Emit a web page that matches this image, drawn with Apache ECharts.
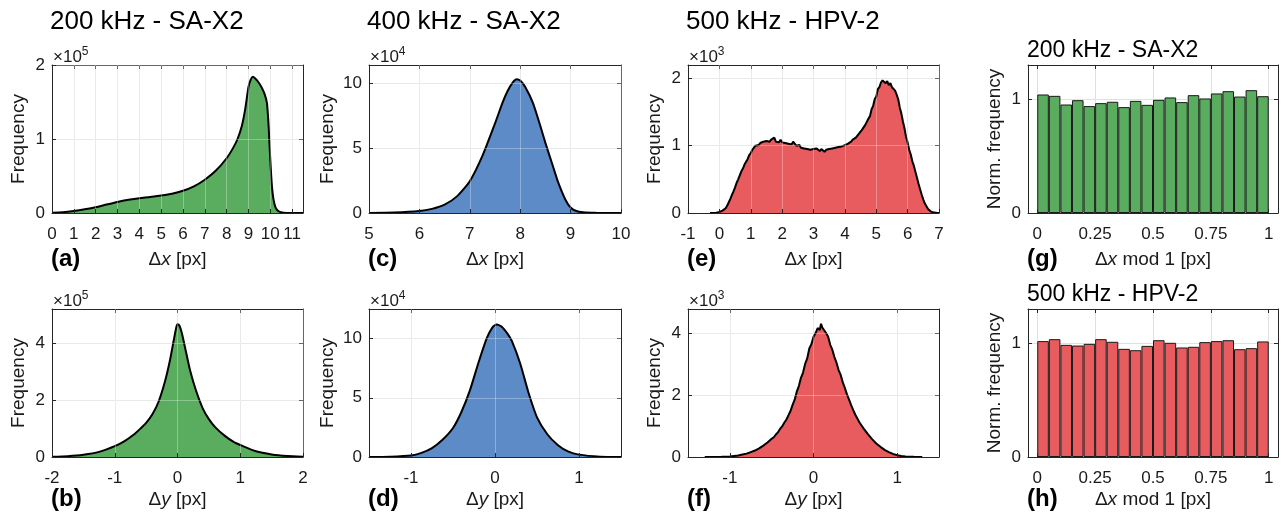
<!DOCTYPE html>
<html>
<head>
<meta charset="utf-8">
<script src="https://cdn.jsdelivr.net/npm/echarts@6/dist/echarts.min.js"></script>
<style>
  html, body { margin: 0; padding: 0; background: #fff; }
  #chart { width: 1282px; height: 518px; }
</style>
</head>
<body>
<div id="chart"></div>
<script>
// (a) 200 kHz SA-X2, Δx histogram, units of 1e5
const dxSA200 = [[0,0.003],[0.5,0.01],[1,0.027],[1.5,0.05],[2,0.078],[2.5,0.115],[3,0.15],[3.5,0.178],
  [4,0.2],[4.5,0.215],[5,0.235],[5.5,0.26],[6,0.3],[6.5,0.36],[7,0.45],[7.5,0.57],[8,0.74],[8.3,0.88],
  [8.5,1.0],[8.7,1.18],[8.85,1.4],[9.0,1.7],[9.1,1.8],[9.2,1.84],[9.3,1.82],[9.45,1.77],[9.6,1.7],
  [9.75,1.6],[9.85,1.48],[9.92,1.2],[9.97,0.9],[10.02,0.62],[10.08,0.35],[10.15,0.18],[10.25,0.07],
  [10.4,0.02],[10.6,0.004],[11,0],[11.5,0]];
// (b) 200 kHz SA-X2, Δy histogram, units of 1e5
const dySA200 = [[-2,0.01],[-1.75,0.03],[-1.5,0.08],[-1.25,0.18],[-1,0.38],[-0.85,0.55],[-0.7,0.78],
  [-0.6,0.98],[-0.5,1.2],[-0.4,1.5],[-0.3,1.95],[-0.2,2.65],[-0.12,3.4],[-0.06,4.1],[-0.02,4.55],[0,4.66],
  [0.03,4.62],[0.07,4.35],[0.12,3.85],[0.2,3.05],[0.3,2.3],[0.4,1.72],[0.5,1.33],[0.6,1.05],[0.75,0.75],
  [0.9,0.52],[1,0.42],[1.25,0.2],[1.5,0.09],[1.75,0.035],[2,0.012]];
// (c) 400 kHz SA-X2, Δx histogram, units of 1e4
const dxSA400 = [[5,0],[5.5,0.03],[6,0.15],[6.25,0.32],[6.5,0.64],[6.75,1.3],[7,2.45],[7.25,4.4],
  [7.5,6.9],[7.65,8.5],[7.75,9.4],[7.85,10.05],[7.93,10.3],[8.0,10.2],[8.1,9.7],[8.25,8.5],[8.4,6.7],
  [8.5,5.4],[8.65,3.6],[8.75,2.4],[8.9,1.0],[9,0.42],[9.1,0.17],[9.25,0.05],[9.5,0.01],[10,0]];
// (d) 400 kHz SA-X2, Δy histogram, units of 1e4
const dySA400 = [[-1.5,0],[-1.25,0.03],[-1,0.13],[-0.875,0.35],[-0.75,0.75],[-0.625,1.45],[-0.5,2.45],
  [-0.4,3.8],[-0.3,5.6],[-0.2,7.9],[-0.1,10.0],[-0.03,10.95],[0.02,11.2],[0.08,11.0],[0.15,10.4],
  [0.2,9.8],[0.3,7.9],[0.4,5.4],[0.5,3.35],[0.625,1.9],[0.75,1.0],[0.875,0.45],[1,0.2],[1.25,0.03],[1.5,0]];
// (e) 500 kHz HPV-2, Δx histogram, units of 1e3, bins from -0.3 every 0.05
const dxHPV500Start = -0.3;
const dxHPV500Step = 0.05;
const dxHPV500 = [
  0, 0, 0, 0.002, 0.004, 0.008, 0.015, 0.02, 0.035, 0.05,
  0.07, 0.11, 0.16, 0.21, 0.27, 0.32, 0.38, 0.45, 0.50, 0.56,
  0.62, 0.66, 0.72, 0.76, 0.80, 0.86, 0.89, 0.94, 0.96, 1.00,
  1.02, 1.01, 1.04, 1.03, 1.06, 1.04, 1.07, 1.05, 1.06, 1.09,
  1.07, 1.12, 1.06, 1.08, 1.05, 1.09, 1.05, 1.07, 1.04, 1.06,
  1.03, 1.05, 1.02, 1.06, 1.03, 1.00, 0.99, 1.01, 0.97, 0.99,
  0.96, 0.98, 0.95, 0.97, 0.94, 0.96, 0.95, 0.93, 0.96, 0.94,
  0.92, 0.95, 0.93, 0.91, 0.94, 0.92, 0.95, 0.93, 0.96, 0.94,
  0.97, 0.95, 0.98, 0.96, 0.99, 0.98, 1.01, 0.99, 1.03, 1.04,
  1.06, 1.09, 1.08, 1.12, 1.14, 1.18, 1.19, 1.24, 1.26, 1.31,
  1.33, 1.40, 1.44, 1.54, 1.59, 1.69, 1.73, 1.84, 1.87, 1.94,
  1.97, 1.99, 1.93, 1.96, 1.90, 1.93, 1.87, 1.89, 1.82, 1.76,
  1.69, 1.57, 1.48, 1.36, 1.26, 1.13, 1.05, 0.94, 0.87, 0.77,
  0.70, 0.61, 0.52, 0.43, 0.35, 0.27, 0.20, 0.14, 0.10, 0.06,
  0.035, 0.02, 0.012, 0.006, 0.003, 0.001, 0];
// (f) 500 kHz HPV-2, Δy histogram, units of 1e3
const dyHPV500 = [[-1.3,0],[-1.2,0.003],[-1.1,0.008],[-1.0,0.02],[-0.95,0.035],[-0.9,0.05],[-0.85,0.08],
  [-0.8,0.11],[-0.75,0.16],[-0.7,0.21],[-0.65,0.28],[-0.6,0.37],[-0.55,0.47],[-0.5,0.59],[-0.475,0.64],
  [-0.45,0.73],[-0.425,0.8],[-0.4,0.91],[-0.375,0.99],[-0.35,1.11],[-0.325,1.21],[-0.3,1.35],[-0.275,1.49],
  [-0.25,1.69],[-0.225,1.86],[-0.2,2.12],[-0.175,2.3],[-0.15,2.57],[-0.125,2.74],[-0.1,3.02],[-0.075,3.2],
  [-0.05,3.52],[-0.025,3.66],[0,3.9],[0.025,4.02],[0.05,4.18],[0.075,4.12],[0.09,4.32],[0.105,4.2],
  [0.125,4.26],[0.15,4.02],[0.175,3.9],[0.2,3.64],[0.225,3.48],[0.25,3.24],[0.275,3.06],[0.3,2.82],
  [0.325,2.66],[0.35,2.42],[0.375,2.24],[0.4,2.03],[0.425,1.86],[0.45,1.68],[0.475,1.52],[0.5,1.37],
  [0.55,1.12],[0.6,0.92],[0.65,0.74],[0.7,0.58],[0.75,0.44],[0.8,0.33],[0.85,0.23],[0.9,0.16],[0.95,0.1],
  [1.0,0.06],[1.05,0.035],[1.1,0.02],[1.2,0.005],[1.3,0]];
// (g), (h) Δx mod 1, normalised frequency per bin
const modBinCenters = [0.025, 0.075, 0.125, 0.175, 0.225, 0.275, 0.325, 0.375, 0.425, 0.475,
  0.525, 0.575, 0.625, 0.675, 0.725, 0.775, 0.825, 0.875, 0.925, 0.975];
const modSA200 = [1.041, 1.029, 0.953, 0.991, 0.939, 0.965, 0.977, 0.930, 0.985, 0.950,
  0.994, 1.015, 0.974, 1.035, 1.006, 1.050, 1.070, 1.023, 1.079, 1.026];
const modHPV500 = [1.018, 1.035, 0.985, 0.979, 0.994, 1.035, 1.012, 0.950, 0.938, 0.976,
  1.026, 1.003, 0.962, 0.968, 1.009, 1.018, 1.026, 0.947, 0.956, 1.015];

// tick values
const ticksA = [0, 1, 2, 3, 4, 5, 6, 7, 8, 9, 10, 11];
const ticksC = [5, 6, 7, 8, 9, 10];
const ticksE = [-1, 0, 1, 2, 3, 4, 5, 6, 7];
const ticksB = [-2, -1, 0, 1, 2];
const ticksDF = [-1, 0, 1];
const ticksMod = [0, 0.25, 0.5, 0.75, 1];

const GREEN = '#5aad5f';
const BLUE = '#5c8bc7';
const RED = '#e85b5e';
const AXIS = '#262626';
const TXT = '#1a1a1a';
const FONT = '"Liberation Sans", Arial, Helvetica, sans-serif';

const colLeft = [52, 369, 688, 1028];
const colWidth = [251, 252, 251, 250];
const rowTop = [65, 309];
const boxH = 148;

const modPairs = vals => vals.map((v, k) => [modBinCenters[k], v]);

const panels = [
  { tag: '(a)', col: 0, row: 0, kind: 'line', smooth: 0.2, data: dxSA200, color: GREEN,
    x: [0, 11.5], xTicks: ticksA, yMax: 2, yTicks: [0, 1, 2], exp: '5', xName: 'x', yName: 'Frequency', yGap: 24 },
  { tag: '(b)', col: 0, row: 1, kind: 'line', smooth: 0.2, data: dySA200, color: GREEN,
    x: [-2, 2], xTicks: ticksB, yMax: 5.2, yTicks: [0, 2, 4], exp: '5', xName: 'y', yName: 'Frequency', yGap: 24 },
  { tag: '(c)', col: 1, row: 0, kind: 'line', smooth: 0.2, data: dxSA400, color: BLUE,
    x: [5, 10], xTicks: ticksC, yMax: 11.4, yTicks: [0, 5, 10], exp: '4', xName: 'x', yName: 'Frequency', yGap: 32 },
  { tag: '(d)', col: 1, row: 1, kind: 'line', smooth: 0.2, data: dySA400, color: BLUE,
    x: [-1.5, 1.5], xTicks: ticksDF, yMax: 12.5, yTicks: [0, 5, 10], exp: '4', xName: 'y', yName: 'Frequency', yGap: 32 },
  { tag: '(e)', col: 2, row: 0, kind: 'line', smooth: false,
    data: dxHPV500.map((v, k) => [dxHPV500Start + k * dxHPV500Step, v]), color: RED,
    x: [-1, 7], xTicks: ticksE, yMax: 2.2, yTicks: [0, 1, 2], exp: '3', xName: 'x', yName: 'Frequency', yGap: 24 },
  { tag: '(f)', col: 2, row: 1, kind: 'line', smooth: false, data: dyHPV500, color: RED,
    x: [-1.5, 1.5], xTicks: ticksDF, yMax: 4.8, yTicks: [0, 2, 4], exp: '3', xName: 'y', yName: 'Frequency', yGap: 24 },
  { tag: '(g)', col: 3, row: 0, kind: 'bar', data: modPairs(modSA200), color: GREEN,
    x: [-0.04, 1.04], xTicks: ticksMod, yMax: 1.3, yTicks: [0, 1], exp: null, xName: 'x', mod: true,
    yName: 'Norm. frequency', yGap: 24, title: '200 kHz - SA-X2' },
  { tag: '(h)', col: 3, row: 1, kind: 'bar', data: modPairs(modHPV500), color: RED,
    x: [-0.04, 1.04], xTicks: ticksMod, yMax: 1.3, yTicks: [0, 1], exp: null, xName: 'x', mod: true,
    yName: 'Norm. frequency', yGap: 24, title: '500 kHz - HPV-2' }
];

const bigTitles = [
  { text: '200 kHz - SA-X2', col: 0 },
  { text: '400 kHz - SA-X2', col: 1 },
  { text: '500 kHz - HPV-2', col: 2 }
];

const grids = [], xAxes = [], yAxes = [], series = [], titles = [];

bigTitles.forEach(t => {
  titles.push({ text: t.text, left: colLeft[t.col] - 2, top: 9, padding: 0,
    textStyle: { fontFamily: FONT, fontSize: 26, fontWeight: 'normal', color: '#000' } });
});

panels.forEach((p, i) => {
  const left = colLeft[p.col], top = rowTop[p.row], w = colWidth[p.col];
  grids.push({ left: left, top: top, width: w, height: boxH, containLabel: false, outerBoundsMode: 'none' });

  const nameRich = {
    n: { fontFamily: FONT, fontSize: 19, color: TXT },
    i: { fontFamily: FONT, fontSize: 19, color: TXT, fontStyle: 'italic' }
  };
  const xName = p.mod ? '{n|Δ}{i|x}{n| mod 1 [px]}' : '{n|Δ}{i|' + p.xName + '}{n| [px]}';

  // bottom axis, drawn over the fill (light grid lines cross the fill)
  xAxes.push({
    gridIndex: i, type: 'value', position: 'bottom', min: p.x[0], max: p.x[1], z: 5,
    axisLine: { show: true, onZero: false, lineStyle: { color: AXIS, width: 1 } },
    axisTick: { show: true, inside: true, length: 4, customValues: p.xTicks, lineStyle: { color: AXIS } },
    axisLabel: { show: true, customValues: p.xTicks, margin: 13, fontSize: 17, fontFamily: FONT, color: TXT },
    splitLine: { show: p.kind === 'line', lineStyle: { color: 'rgba(255,255,255,0.3)', width: 1 } },
    name: xName, nameLocation: 'middle', nameGap: p.row === 0 ? 37 : 33,
    nameTextStyle: { rich: nameRich }
  });
  // top axis (box edge), grid lines under the fill
  xAxes.push({
    gridIndex: i, type: 'value', position: 'top', min: p.x[0], max: p.x[1],
    axisLine: { show: true, onZero: false, lineStyle: { color: AXIS, width: 1 } },
    axisTick: { show: true, inside: true, length: 4, customValues: p.xTicks, lineStyle: { color: AXIS } },
    axisLabel: { show: false },
    splitLine: { show: true, lineStyle: { color: '#e0e0e0', width: 1 } }
  });
  yAxes.push({
    gridIndex: i, type: 'value', position: 'left', min: 0, max: p.yMax, z: 5,
    axisLine: { show: true, onZero: false, lineStyle: { color: AXIS, width: 1 } },
    axisTick: { show: true, inside: true, length: 4, customValues: p.yTicks, lineStyle: { color: AXIS } },
    axisLabel: { show: true, customValues: p.yTicks, margin: 7, fontSize: 17, fontFamily: FONT, color: TXT },
    splitLine: { show: p.kind === 'line', lineStyle: { color: 'rgba(255,255,255,0.3)', width: 1 } },
    name: p.yName, nameLocation: 'middle', nameRotate: 90, nameGap: p.yGap,
    nameTextStyle: { fontFamily: FONT, fontSize: 19, color: TXT }
  });
  yAxes.push({
    gridIndex: i, type: 'value', position: 'right', min: 0, max: p.yMax,
    axisLine: { show: true, onZero: false, lineStyle: { color: AXIS, width: 1 } },
    axisTick: { show: true, inside: true, length: 4, customValues: p.yTicks, lineStyle: { color: AXIS } },
    axisLabel: { show: false },
    splitLine: { show: true, lineStyle: { color: '#e0e0e0', width: 1 } }
  });

  if (p.kind === 'line') {
    series.push({
      type: 'line', xAxisIndex: 2 * i, yAxisIndex: 2 * i, data: p.data, smooth: p.smooth,
      showSymbol: false, symbol: 'none', silent: true, animation: false,
      lineStyle: { color: '#000', width: 2 },
      areaStyle: { color: p.color, opacity: 1 }
    });
  } else {
    const pxPerUnit = w / (p.x[1] - p.x[0]);
    series.push({
      type: 'bar', xAxisIndex: 2 * i, yAxisIndex: 2 * i, data: p.data,
      barWidth: pxPerUnit * 0.05, silent: true, animation: false,
      itemStyle: { color: p.color, borderColor: '#1a1a1a', borderWidth: 1 }
    });
  }

  // panel letter
  titles.push({ text: p.tag, left: left - 1, top: p.row === 0 ? 247 : 487, padding: 0,
    textStyle: { fontFamily: FONT, fontSize: 24, fontWeight: 'bold', color: '#000' } });
  // exponent marker
  if (p.exp) {
    titles.push({ text: '{a|×10}{b|' + p.exp + '}', left: left + 1, top: top - 19, padding: 0,
      textStyle: { fontWeight: 'normal', rich: {
        a: { fontFamily: FONT, fontSize: 17, fontWeight: 'normal', color: TXT, verticalAlign: 'bottom', lineHeight: 18 },
        b: { fontFamily: FONT, fontSize: 12, fontWeight: 'normal', color: TXT, verticalAlign: 'top', padding: [0, 0, 8, 0] }
      } } });
  }
  // small panel title in the last column
  if (p.title) {
    titles.push({ text: p.title, left: left - 1, top: top - 26, padding: 0,
      textStyle: { fontFamily: FONT, fontSize: 23, fontWeight: 'normal', color: '#000' } });
  }
});

const chart = echarts.init(document.getElementById('chart'), null, { renderer: 'canvas' });
chart.setOption({
  animation: false,
  backgroundColor: '#fff',
  title: titles,
  grid: grids,
  xAxis: xAxes,
  yAxis: yAxes,
  series: series
});
</script>
</body>
</html>
